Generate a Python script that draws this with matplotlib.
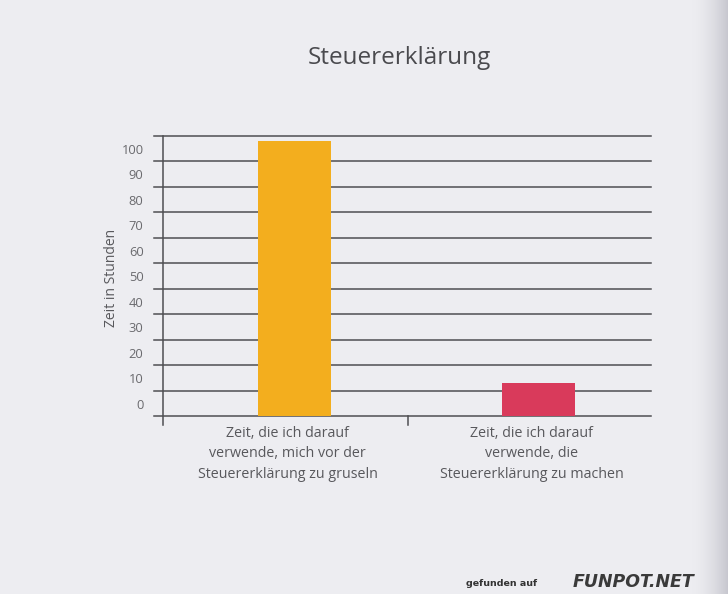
import numpy as np
import matplotlib
matplotlib.use("Agg")
import matplotlib.pyplot as plt

# data
categories = [
    "Zeit, die ich darauf\nverwende, mich vor der\nSteuererklärung zu gruseln",
    "Zeit, die ich darauf\nverwende, die\nSteuererklärung zu machen",
]
hours = [103, 8]
tick_values = [0, 10, 20, 30, 40, 50, 60, 70, 80, 90, 100]
grid_values = [-5, 5, 15, 25, 35, 45, 55, 65, 75, 85, 95, 105]
bar_colors = ["#F3AE1E", "#D93A5B"]

plt.rcParams["font.family"] = ["Open Sans", "DejaVu Sans"]
paper = "#EDEDF1"
ink = "#58585c"
line_col = "#4e4e52"

fig = plt.figure(figsize=(7.28, 5.94), dpi=100, facecolor=paper)

# paper background with a soft binding shadow on the right
bg = fig.add_axes([0, 0, 1, 1], zorder=-10)
xs = np.arange(728)
shade = np.clip((xs - 690) / 38.0, 0, 1) ** 1.8
grad = np.vstack([shade, shade])
bg.imshow(grad, cmap=matplotlib.colors.LinearSegmentedColormap.from_list(
    "pg", [paper, "#c6c6ce"]), aspect="auto", extent=[0, 1, 0, 1], vmin=0, vmax=1)
bg.axis("off")

ax = fig.add_axes([0.2239, 0.2992, 0.6699, 0.4719])
ax.set_facecolor("none")
ax.set_xlim(-0.54, 1.46)
ax.set_ylim(-5, 105)

for g in grid_values:
    ax.axhline(g, xmin=-0.0185, xmax=1, color=line_col, lw=1.1, clip_on=False, zorder=1)
# vertical axis line, running a bit below the baseline
ax.axvline(-0.54, ymin=-0.032, ymax=1, color=line_col, lw=1.1, clip_on=False, zorder=1)
# small separator tick between the categories
ax.axvline(0.465, ymin=-0.032, ymax=0, color=line_col, lw=1.1, clip_on=False, zorder=1)

ax.bar([0, 1], [h + 5 for h in hours], bottom=-5, width=0.30,
       color=bar_colors, zorder=2)

for s in ax.spines.values():
    s.set_visible(False)
ax.set_yticks(tick_values)
ax.set_yticklabels([str(v) for v in tick_values])
ax.tick_params(axis="y", length=0, pad=14, labelsize=9.3, labelcolor="#6a6a6e")
ax.set_xticks([-0.028, 0.972])
ax.set_xticklabels(categories, linespacing=1.5)
ax.tick_params(axis="x", length=0, pad=7, labelsize=10.3, labelcolor=ink)

fig.text(0.1525, 0.532, "Zeit in Stunden", rotation=90, ha="center", va="center",
         fontsize=10, color=ink)
fig.text(0.548, 0.8917, "Steuererklärung", ha="center", va="baseline",
         fontsize=17.5, color="#4a4a4e")

# watermark
fig.text(0.738, 0.013, "gefunden auf", ha="right", va="baseline", fontsize=6.8,
         fontweight="bold", color="#333333", family=["DejaVu Sans"])
fig.text(0.787, 0.011, "FUNPOT.NET", ha="left", va="baseline", fontsize=12.5,
         fontweight="bold", fontstyle="italic", color="#3a3a3a", family=["DejaVu Sans"])

fig.savefig("out.png", dpi=100, facecolor=paper)
